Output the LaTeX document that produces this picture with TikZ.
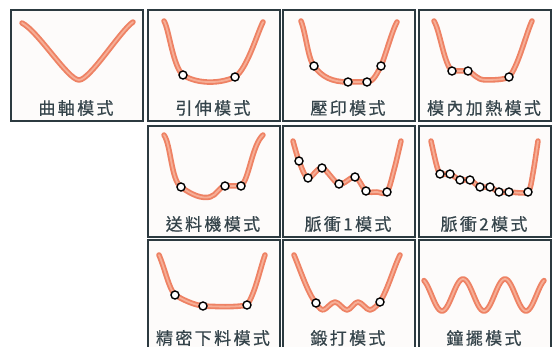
\documentclass[tikz,border=0pt]{standalone}
\usepackage{fontspec}
\newfontfamily\cjk[LetterSpace=14, FakeBold=0.6]{Noto Sans CJK TC}
\definecolor{frame}{HTML}{2C3A40}
\definecolor{txt}{HTML}{34434A}
\definecolor{sal}{HTML}{EE8264}
\definecolor{sallt}{HTML}{F6AE96}
\definecolor{boxfill}{HTML}{FDFBFA}
\tikzset{
 panel/.style={draw=frame, line width=1.8pt, fill=boxfill, minimum width=132pt, minimum height=111pt, inner sep=0pt, anchor=north west},
 lbl/.style={text=txt, font=\fontsize{17}{17}\selectfont\cjk, inner sep=0pt},
 curve/.style={sal, line width=5.5pt, line cap=round, line join=round},
 curvehi/.style={sallt, line width=1.8pt, line cap=round, line join=round},
 dotc/.style={circle, draw=black, fill=white, line width=1.4pt, minimum size=8pt, inner sep=0pt},
}
\newcommand\crv[1]{\draw[curve] #1; \draw[curvehi] #1;}
\begin{document}
\begin{tikzpicture}[x=1pt,y=-1pt]
\useasboundingbox (0,0) rectangle (555,347);
% panel 1
\begin{scope}[shift={(10,9)}]
\node[panel] (p1) at (0,0) {};
\node[lbl] (l1) at (66,99) {曲軸模式};
\crv{(12,14) .. controls (28,22) and (58,71) .. (69,71) .. controls (80,71) and (110,22) .. (123,13)}
\end{scope}
% panel 2
\begin{scope}[shift={(147,9)}]
\node[panel] (p2) at (0,0) {};
\node[lbl] (l2) at (66,99) {引伸模式};
\crv{(17,12) .. controls (22,20) and (26,58) .. (36,66) .. controls (48,74) and (70,76) .. (88,68) .. controls (100,60) and (110,25) .. (116,13)}
\foreach \p [count=\i] in {(36,66),(88,68)} \node[dotc] (p2d\i) at \p {};
\end{scope}
% panel 3
\begin{scope}[shift={(282,9)}]
\node[panel] (p3) at (0,0) {};
\node[lbl] (l3) at (66,99) {壓印模式};
\crv{(19,12) .. controls (24,25) and (26,50) .. (32,57) .. controls (40,68) and (50,73) .. (66,73) -- (85,73) .. controls (92,73) and (96,62) .. (99,57) .. controls (104,45) and (110,22) .. (115,13)}
\foreach \p [count=\i] in {(32,57),(66,73),(85,73),(99,57)} \node[dotc] (p3d\i) at \p {};
\end{scope}
% panel 4
\begin{scope}[shift={(418,9)}]
\node[panel] (p4) at (0,0) {};
\node[lbl] (l4) at (66,99) {模內加熱模式};
\crv{(16,12) .. controls (22,22) and (26,55) .. (34,62) -- (50,62) .. controls (56,64) and (58,71) .. (68,71) .. controls (80,71) and (88,70) .. (91,68) .. controls (100,58) and (108,25) .. (114,12)}
\foreach \p [count=\i] in {(34,62),(50,62),(91,68)} \node[dotc] (p4d\i) at \p {};
\end{scope}
% panel 5
\begin{scope}[shift={(147,125)}]
\node[panel] (p5) at (0,0) {};
\node[lbl] (l5) at (66,99) {送料機模式};
\crv{(17,10) .. controls (24,20) and (24,55) .. (34,62) .. controls (45,70) and (55,74) .. (63,72) .. controls (70,70) and (72,62) .. (78,61) -- (94,61) .. controls (102,55) and (105,20) .. (116,10)}
\foreach \p [count=\i] in {(34,62),(78,61),(94,61)} \node[dotc] (p5d\i) at \p {};
\end{scope}
% panel 6
\begin{scope}[shift={(282,125)}]
\node[panel] (p6) at (0,0) {};
\node[lbl] (l6) at (66,99) {脈衝1模式};
\crv{plot[smooth, tension=0.55] coordinates {(11,16) (17,36) (26,53) (40,43) (57,59) (73,52) (84,66) (95,67) (105,67) (112,45) (119,16)}}
\foreach \p [count=\i] in {(17,36),(26,53),(40,43),(57,59),(73,52),(84,66),(105,67)} \node[dotc] (p6d\i) at \p {};
\end{scope}
% panel 7
\begin{scope}[shift={(418,125)}]
\node[panel] (p7) at (0,0) {};
\node[lbl] (l7) at (66,99) {脈衝2模式};
\crv{plot[smooth, tension=0.4] coordinates {(13,16) (18,38) (22,49) (32,49) (42,55) (52,55) (62,62) (72,62) (81,67) (91,67) (110,67) (115,48) (120,16)}}
\foreach \p [count=\i] in {(22,49),(32,49),(42,55),(52,55),(62,62),(72,62),(81,67),(91,67),(110,67)} \node[dotc] (p7d\i) at \p {};
\end{scope}
% panel 8
\begin{scope}[shift={(147,239)}]
\node[panel] (p8) at (0,0) {};
\node[lbl] (l8) at (66,99) {精密下料模式};
\crv{(12,16) .. controls (18,30) and (22,50) .. (28,56) .. controls (38,62) and (48,66) .. (56,67) .. controls (75,68) and (92,68) .. (100,66) .. controls (108,55) and (113,30) .. (118,16)}
\foreach \p [count=\i] in {(28,56),(56,67),(100,66)} \node[dotc] (p8d\i) at \p {};
\end{scope}
% panel 9
\begin{scope}[shift={(282,239)}]
\node[panel] (p9) at (0,0) {};
\node[lbl] (l9) at (66,99) {鍛打模式};
\crv{(12,16) .. controls (18,30) and (26,55) .. (34,64) plot[smooth, tension=0.6] coordinates {(34,64) (41,71) (53,63) (65,71) (76,63) (88,71) (98,63)} (98,63) .. controls (106,50) and (112,28) .. (118,16)}
\foreach \p [count=\i] in {(34,64),(98,63)} \node[dotc] (p9d\i) at \p {};
\end{scope}
% panel 10
\begin{scope}[shift={(418,239)}]
\node[panel] (p10) at (0,0) {};
\node[lbl] (l10) at (66,99) {鐘擺模式};
\crv{plot[domain=6:126, samples=121, smooth] (\x, {56+16*cos((\x-24)*8.5714)})}
\end{scope}
\end{tikzpicture}
\end{document}
